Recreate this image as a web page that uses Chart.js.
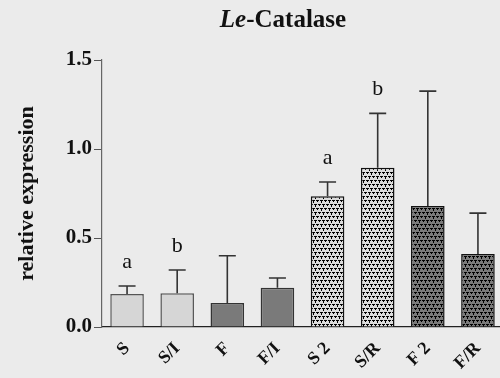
<!DOCTYPE html>
<html>
<head>
<meta charset="utf-8">
<script src="https://cdn.jsdelivr.net/npm/chart.js@4.4.0/dist/chart.umd.min.js"></script>
<style>
  html, body { margin: 0; padding: 0; background: #ebebeb; overflow: hidden; }
  #wrap { position: relative; width: 503px; height: 378px; }
</style>
</head>
<body>
<div id="wrap"><canvas id="grafico"></canvas></div>
<script>
// dados
var categorias = ['S', 'S/I', 'F', 'F/I', 'S 2', 'S/R', 'F 2', 'F/R'];
var media = [0.185, 0.19, 0.135, 0.22, 0.735, 0.895, 0.68, 0.41];
var erroSup = [0.23, 0.32, 0.40, 0.275, 0.815, 1.20, 1.325, 0.64];
var letras = ['a', 'b', '', '', 'a', 'b', '', ''];
var ticksY = [0, 0.5, 1.0, 1.5];

var serif = "'Liberation Serif', 'Times New Roman', serif";

function criarPadrao(fundo) {
  var c = document.createElement('canvas');
  c.width = 8; c.height = 8;
  var g = c.getContext('2d');
  g.fillStyle = fundo;
  g.fillRect(0, 0, 8, 8);
  g.fillStyle = '#000';
  // pequenos "T" em quincunce
  g.fillRect(0, 0, 3, 1); g.fillRect(1, 1, 1, 2);
  g.fillRect(4, 0, 3, 1); g.fillRect(5, 1, 1, 1);
  g.fillRect(2, 4, 3, 1); g.fillRect(3, 5, 1, 2);
  g.fillRect(6, 4, 3, 1); g.fillRect(0, 4, 1, 1); g.fillRect(7, 5, 1, 1);
  return document.getElementById('grafico').getContext('2d').createPattern(c, 'repeat');
}

var cores = ['#d6d6d6', '#d6d6d6', '#7a7a7a', '#7a7a7a',
  criarPadrao('#dcdcdc'), criarPadrao('#dcdcdc'), criarPadrao('#7a7a7a'), criarPadrao('#7a7a7a')];
var bordas = ['#555', '#555', '#333', '#333', '#111', '#111', '#111', '#111'];

var pluginExtra = {
  id: 'extra',
  afterDatasetsDraw: function (chart) {
    var ctx = chart.ctx;
    var y = chart.scales.y;
    var meta = chart.getDatasetMeta(0);
    ctx.save();
    meta.data.forEach(function (bar, i) {
      var topo = y.getPixelForValue(media[i]);
      var cima = y.getPixelForValue(erroSup[i]);
      ctx.strokeStyle = '#333';
      ctx.lineWidth = 1.6;
      ctx.beginPath();
      ctx.moveTo(bar.x, topo);
      ctx.lineTo(bar.x, cima);
      ctx.moveTo(bar.x - 8.5, cima);
      ctx.lineTo(bar.x + 8.5, cima);
      ctx.stroke();
      if (letras[i]) {
        ctx.fillStyle = '#111';
        ctx.font = '22px ' + serif;
        ctx.textAlign = 'center';
        ctx.textBaseline = 'alphabetic';
        ctx.fillText(letras[i], bar.x, cima - 18);
      }
    });
    // titulo
    ctx.fillStyle = '#111';
    ctx.textBaseline = 'alphabetic';
    ctx.textAlign = 'left';
    ctx.font = 'italic bold 25px ' + serif;
    var w1 = ctx.measureText('Le').width;
    ctx.font = 'bold 25px ' + serif;
    var w2 = ctx.measureText('-Catalase').width;
    var x0 = 283 - (w1 + w2) / 2;
    ctx.font = 'italic bold 25px ' + serif;
    ctx.fillText('Le', x0, 27);
    ctx.font = 'bold 25px ' + serif;
    ctx.fillText('-Catalase', x0 + w1, 27);
    ctx.restore();
  }
};

new Chart(document.getElementById('grafico'), {
  type: 'bar',
  data: {
    labels: categorias,
    datasets: [{
      data: media,
      backgroundColor: cores,
      borderColor: bordas,
      borderWidth: 1.5,
      borderSkipped: 'bottom',
      categoryPercentage: 1,
      barPercentage: 0.67
    }]
  },
  options: {
    responsive: true,
    maintainAspectRatio: false,
    animation: false,
    layout: { padding: { top: 60, right: 0, left: 0, bottom: 0 } },
    plugins: { legend: { display: false }, tooltip: { enabled: false }, title: { display: false } },
    scales: {
      x: {
        afterFit: function (axis) { axis.height = 51; },
        grid: { display: false, drawOnChartArea: false, drawTicks: true, tickLength: 7, tickColor: '#444' },
        border: { display: true, color: '#222', width: 1.2, dash: [2, 1] },
        ticks: {
          color: '#111', font: { family: serif, size: 18, weight: 'bold' },
          maxRotation: 45, minRotation: 45, padding: 4
        }
      },
      y: {
        min: 0, max: 1.5,
        afterFit: function (axis) { axis.width = 102; },
        afterBuildTicks: function (axis) { axis.ticks = ticksY.map(function (v) { return { value: v }; }); },
        grid: { drawOnChartArea: false, drawTicks: true, tickLength: 8, tickColor: '#555' },
        border: { display: true, color: '#666', width: 1.2 },
        ticks: {
          color: '#111', font: { family: serif, size: 21, weight: 'bold' },
          padding: 2,
          callback: function (v) { return Number(v).toFixed(1); }
        },
        title: {
          display: true, text: 'relative expression', color: '#111',
          font: { family: serif, size: 22, weight: 'bold' }, padding: { top: 14, bottom: 0 }
        }
      }
    }
  },
  plugins: [pluginExtra]
});
</script>
</body>
</html>
